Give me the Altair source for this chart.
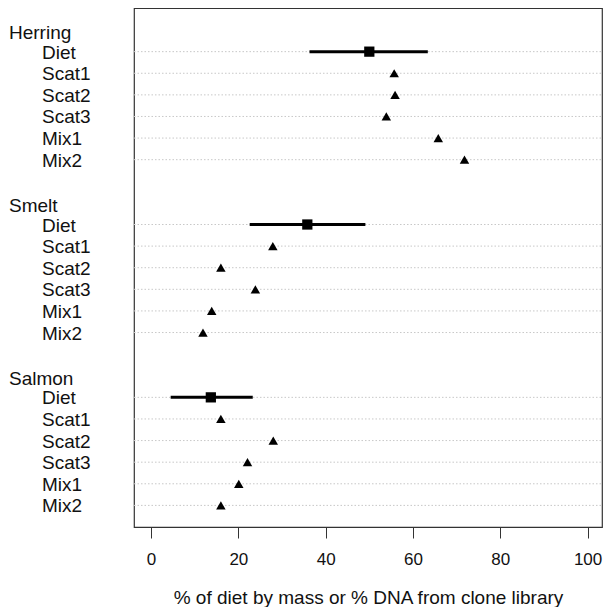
import altair as alt
import pandas as pd

groups = ["Herring", "Smelt", "Salmon"]
items = ["Diet", "Scat1", "Scat2", "Scat3", "Mix1", "Mix2"]

# Diet estimate (mean with range) per group
diet_mean = [50.0, 35.8, 13.7]
diet_low = [36.3, 22.6, 4.5]
diet_high = [63.4, 49.1, 23.3]

# DNA estimates for Scat1, Scat2, Scat3, Mix1, Mix2
herring_vals = [55.7, 55.9, 53.9, 65.8, 71.8]
smelt_vals = [27.9, 16.0, 23.9, 13.9, 11.9]
salmon_vals = [16.0, 28.0, 22.1, 20.1, 16.0]

x_ticks = [0, 20, 40, 60, 80, 100]
x_title = "% of diet by mass or % DNA from clone library"

FONT = "Liberation Sans"
ROWS_PER_GROUP = 8

group_vals = [herring_vals, smelt_vals, salmon_vals]

header_rows, item_rows, diet_rows, dna_rows = [], [], [], []
for g, name in enumerate(groups):
    base = g * ROWS_PER_GROUP
    header_rows.append({"label": name, "row": base - 0.85})
    for i, it in enumerate(items):
        item_rows.append({"label": it, "row": base + i})
    diet_rows.append({"group": name, "row": base, "mean": diet_mean[g],
                      "low": diet_low[g], "high": diet_high[g]})
    for i, v in enumerate(group_vals[g]):
        dna_rows.append({"group": name, "item": items[i + 1], "row": base + i + 1, "value": v})

headers = pd.DataFrame(header_rows)
labels = pd.DataFrame(item_rows)
diet = pd.DataFrame(diet_rows)
dna = pd.DataFrame(dna_rows)

W, H = 468, 519
xs = alt.Scale(domain=[-3.9, 103.3], nice=False, zero=False)
ys = alt.Scale(domain=[-2.02, 22.0], reverse=True, nice=False, zero=False)

xaxis = alt.Axis(values=x_ticks, tickSize=11, tickColor="#333", tickWidth=1,
                 domain=False, grid=False, labelFontSize=17, labelColor="#111",
                 labelFont=FONT, labelPadding=13, title=x_title, titleFont=FONT,
                 titleFontSize=19, titleFontWeight="normal", titleColor="#111",
                 titlePadding=21, format="d")

grid = alt.Chart(labels).mark_rule(color="#c8c8c8", strokeDash=[1.5, 2], strokeWidth=1).encode(
    y=alt.Y("row:Q", scale=ys, axis=None),
    x=alt.value(0), x2=alt.value(W),
)

bars = alt.Chart(diet).mark_rule(color="black", strokeWidth=3).encode(
    x=alt.X("low:Q", scale=xs, axis=xaxis),
    x2="high:Q",
    y=alt.Y("row:Q", scale=ys, axis=None),
)

squares = alt.Chart(diet).mark_point(shape="square", filled=True, color="black",
                                     size=105, opacity=1).encode(
    x=alt.X("mean:Q", scale=xs),
    y=alt.Y("row:Q", scale=ys),
)

tris = alt.Chart(dna).mark_point(shape="triangle-up", filled=True, color="black",
                                 size=90, opacity=1).encode(
    x=alt.X("value:Q", scale=xs),
    y=alt.Y("row:Q", scale=ys),
)

head_text = alt.Chart(headers).mark_text(align="left", baseline="middle", font=FONT,
                                         fontSize=19, color="#111").encode(
    x=alt.value(-125),
    y=alt.Y("row:Q", scale=ys),
    text="label:N",
)

item_text = alt.Chart(labels).mark_text(align="left", baseline="middle", font=FONT,
                                        fontSize=19, color="#111", dy=1).encode(
    x=alt.value(-92),
    y=alt.Y("row:Q", scale=ys),
    text="label:N",
)

chart = alt.layer(grid, bars, squares, tris, head_text, item_text).properties(
    width=W, height=H,
    padding={"left": 1, "top": 0, "right": 0, "bottom": 0},
    background="white",
).configure_view(stroke="#333", strokeWidth=1.2)

chart.save("out.html", embed_options={"renderer": "svg", "actions": False})
